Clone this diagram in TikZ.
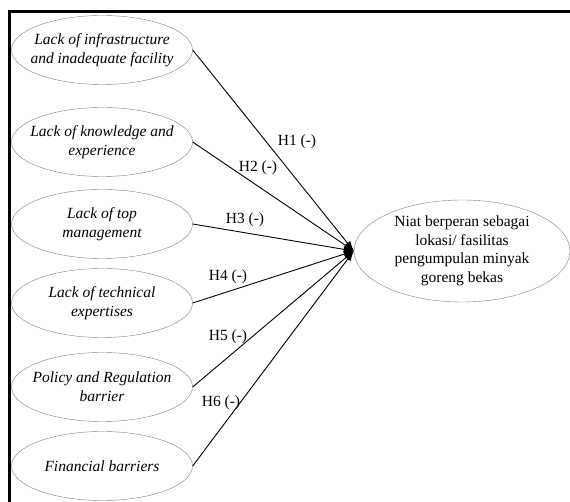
\documentclass[tikz,border=0pt]{standalone}
\usepackage{fontspec}
\setmainfont{Liberation Serif}
\usepackage{tikz}
\usetikzlibrary{shapes.geometric, arrows.meta}
\tikzset{every picture/.style={x=1pt, y=1pt}}
\tikzset{
    factor/.style={ellipse, draw=gray, thin, minimum width=181pt, minimum height=69pt,
        inner xsep=-20pt, inner ysep=0pt, align=center, font=\fontsize{15.5}{19}\selectfont\itshape},
    outcome/.style={ellipse, draw=gray, thin, minimum width=216pt, minimum height=102pt,
        inner xsep=-12pt, inner ysep=-6pt, align=center, font=\fontsize{15.5}{18.5}\selectfont},
    hyp/.style={font=\fontsize{15.5}{18}\selectfont, inner sep=0pt},
    path/.style={black, line width=0.9pt, -{Latex[length=10pt, width=7pt]}}
}

\begin{document}
\begin{tikzpicture}

    % Fix the page size
    \useasboundingbox (0,0) rectangle (570,502);

    % Draw frame (top and left borders)
    \draw[line width=3pt] (9,0) -- (9,490.5) -- (570,490.5);

    % Barrier constructs
    \node[factor] (f1) at (102,452) {Lack of infrastructure\\and inadequate facility};
    \node[factor] (f2) at (102,360) {Lack of knowledge and\\experience};
    \node[factor] (f3) at (102,278) {Lack of top\\management};
    \node[factor] (f4) at (102,199) {Lack of technical\\expertises};
    \node[factor] (f5) at (102,115) {Policy and Regulation\\barrier};
    \node[factor] (f6) at (102,36) {Financial barriers};

    % Dependent construct
    \node[outcome] (niat) at (462,251) {Niat berperan sebagai\\lokasi/ fasilitas\\pengumpulan minyak\\goreng bekas};

    % Draw hypothesis paths
    \foreach \i in {1,...,6} {
        \draw[path] (f\i.east) -- (niat.west);
    }

    % Hypothesis labels
    \node[hyp] (h1) at (297,360) {H1 (-)};
    \node[hyp] (h2) at (258,334) {H2 (-)};
    \node[hyp] (h3) at (245,282) {H3 (-)};
    \node[hyp] (h4) at (228,225) {H4 (-)};
    \node[hyp] (h5) at (228,165) {H5 (-)};
    \node[hyp] (h6) at (221,99) {H6 (-)};

\end{tikzpicture}
\end{document}
